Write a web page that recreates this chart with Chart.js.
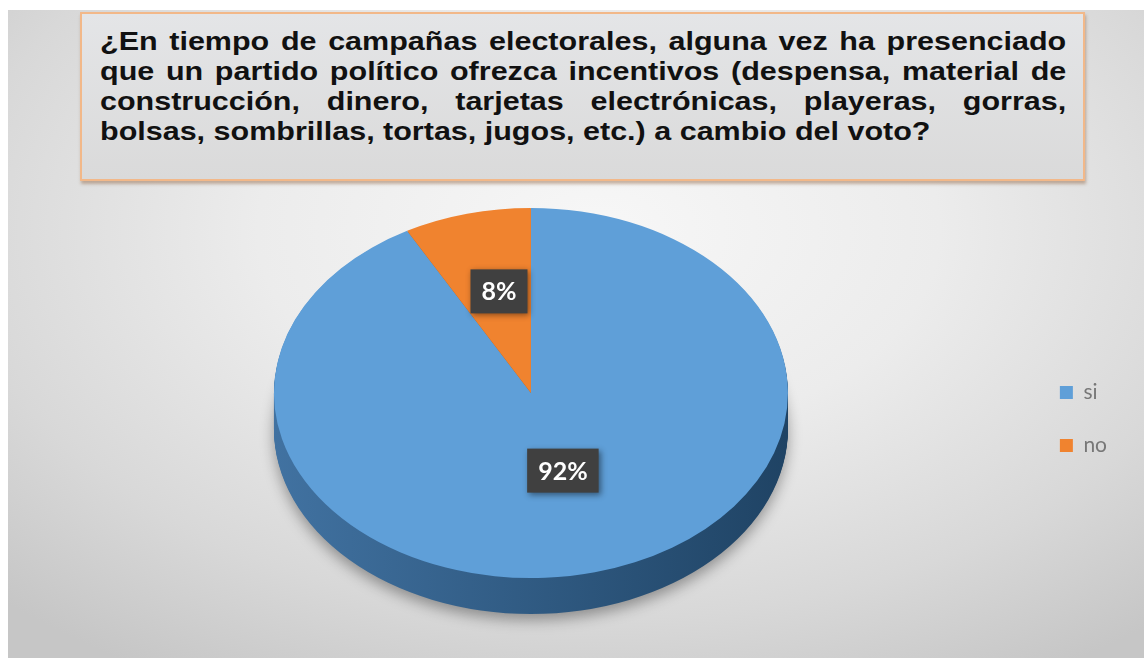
<!DOCTYPE html>
<html lang="es">
<head>
<meta charset="utf-8">
<title>Incentivos a cambio del voto</title>
<script src="https://cdn.jsdelivr.net/npm/chart.js@4.4.1/dist/chart.umd.min.js"></script>
<style>
	html, body {
		margin: 0;
		padding: 0;
		width: 1144px;
		height: 658px;
		overflow: hidden;
		background: #ffffff;
	}
	.slide {
		position: absolute;
		left: 8px;
		top: 10px;
		right: 0;
		bottom: 0;
		background: radial-gradient(ellipse 75% 80% at 52% 34%, #f7f7f7 0%, #ececec 40%, #d8d8d8 75%, #c6c6c6 100%);
	}
	.question {
		position: absolute;
		left: 80px;
		top: 12px;
		width: 1001px;
		height: 165px;
		border: 2px solid #f2b889;
		background: linear-gradient(#e4e5e7, #dadada);
		box-shadow: 1px 3px 3px rgba(140, 95, 60, 0.45);
	}
	.question-text {
		position: absolute;
		left: 100px;
		top: 26px;
		width: 792px;
		transform: scaleX(1.22);
		transform-origin: 0 0;
		font-family: "Liberation Sans", Arial, sans-serif;
		font-weight: bold;
		font-size: 25px;
		line-height: 30px;
		color: #111111;
	}
	.question-text div {
		text-align: justify;
		text-align-last: justify;
		white-space: nowrap;
	}
	.question-text div.last {
		text-align-last: left;
	}
	#chart-incentivos {
		position: absolute;
		left: 0;
		top: 0;
	}
</style>
</head>
<body>
<div class="slide"></div>
<div class="question"></div>
<div class="question-text">
	<div>¿En tiempo de campañas electorales, alguna vez ha presenciado</div>
	<div>que un partido político ofrezca incentivos (despensa, material de</div>
	<div>construcción, dinero, tarjetas electrónicas, playeras, gorras,</div>
	<div class="last">bolsas, sombrillas, tortas, jugos, etc.) a cambio del voto?</div>
</div>
<canvas id="chart-incentivos" width="1144" height="688"></canvas>

<script>
( function() {
	'use strict';

	// respuestas de la encuesta (porcentaje)
	var categories = ['si', 'no'];
	var percentages = [92, 8];

	var topColors = ['#5f9fd8', '#f0832f'];
	var sideColors = [['#4172a1', '#1f4364'], ['#b7601f', '#8f4716']];

	var TILT = 0.72;       // aplastamiento vertical del disco
	var DEPTH = 36;        // grosor del pastel en px
	var LIFT = 26;         // la cara superior sube sobre el centro del area
	var LABEL_LIFT = 12;

	function slicePath(ctx, arc) {
		ctx.beginPath();
		ctx.moveTo(arc.x, arc.y);
		ctx.arc(arc.x, arc.y, arc.outerRadius, arc.startAngle, arc.endAngle);
		ctx.closePath();
	}

	function squash(ctx, cy, shift) {
		ctx.translate(0, cy + shift);
		ctx.scale(1, TILT);
		ctx.translate(0, -cy);
	}

	/**
	 * Pastel 3D: paredes apiladas debajo y cara superior inclinada
	 */
	var pie3d = {
		id: 'pie3d',
		beforeDatasetsDraw: function(chart) {
			var ctx = chart.ctx;
			var arcs = chart.getDatasetMeta(0).data;
			var cx = arcs[0].x;
			var cy = arcs[0].y;
			var r = arcs[0].outerRadius;
			var bottom = DEPTH - LIFT;

			for (var d = bottom; d > -LIFT; d--) {
				ctx.save();
				if (d === bottom) {
					ctx.shadowColor = 'rgba(0, 0, 0, 0.35)';
					ctx.shadowBlur = 14;
					ctx.shadowOffsetY = 6;
				}
				squash(ctx, cy, d);
				arcs.forEach(function(arc, i) {
					var grad = ctx.createLinearGradient(cx - r, 0, cx + r, 0);
					grad.addColorStop(0, sideColors[i][0]);
					grad.addColorStop(1, sideColors[i][1]);
					ctx.fillStyle = grad;
					slicePath(ctx, arc);
					ctx.fill();
				});
				ctx.restore();
			}

			ctx.save();
			squash(ctx, cy, -LIFT);
		},
		afterDatasetsDraw: function(chart) {
			chart.ctx.restore();
		},
		afterDraw: function(chart) {
			var ctx = chart.ctx;
			var arcs = chart.getDatasetMeta(0).data;
			var cy = arcs[0].y;

			ctx.save();
			ctx.font = 'bold 25px Lato, "Open Sans", sans-serif';
			ctx.textAlign = 'center';
			ctx.textBaseline = 'middle';
			arcs.forEach(function(arc, i) {
				var pos = arc.tooltipPosition();
				var x = pos.x;
				var y = cy - LIFT + (pos.y - cy) * TILT - LABEL_LIFT;
				var text = percentages[i] + '%';
				var w = ctx.measureText(text).width + 22;
				var h = 44;

				ctx.shadowColor = 'rgba(0, 0, 0, 0.45)';
				ctx.shadowBlur = 6;
				ctx.shadowOffsetX = 2;
				ctx.shadowOffsetY = 2;
				ctx.fillStyle = '#404040';
				ctx.fillRect(x - w / 2, y - h / 2, w, h);

				ctx.shadowColor = 'transparent';
				ctx.fillStyle = '#ffffff';
				ctx.fillText(text, x, y + 1);
			});
			ctx.restore();
		}
	};

	var ctx = document.getElementById('chart-incentivos');
	var chartIncentivos = new Chart(ctx, {
		type: 'pie',
		data: {
			labels: categories,
			datasets: [
				{
					data: percentages,
					backgroundColor: topColors,
					borderWidth: 0
				}]
		},
		options: {
			responsive: false,
			animation: false,
			layout: {
				padding: { top: 162, bottom: 12, left: 34, right: 27 }
			},
			plugins: {
				legend: {
					position: 'right',
					labels: {
						boxWidth: 13,
						boxHeight: 13,
						padding: 32,
						color: '#777777',
						font: { family: 'Lato', size: 21 }
					}
				},
				tooltip: { enabled: false }
			}
		},
		plugins: [pie3d]
	});
})();
</script>
</body>
</html>
